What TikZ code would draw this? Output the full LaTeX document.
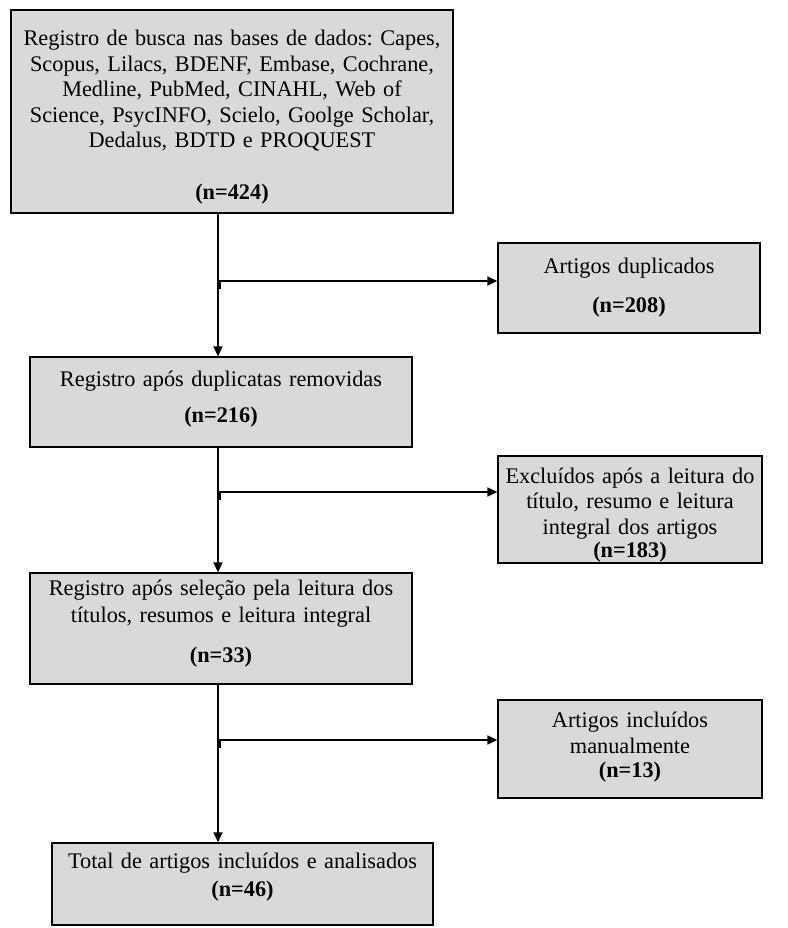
\documentclass[tikz,border=0pt]{standalone}
\usepackage{fontspec}
\setmainfont{Liberation Serif}
\usetikzlibrary{arrows.meta}
\definecolor{boxgray}{HTML}{D9D9D9}
\frenchspacing
\begin{document}
\begin{tikzpicture}[x=1pt,y=-1pt,
  box/.style={draw=black, fill=boxgray, line width=1.3pt, inner sep=0pt},
  txt/.style={align=center, inner sep=0pt, anchor=base, font=\fontsize{22.3}{25.5}\selectfont},
  arr/.style={line width=1.4pt, -{Triangle[length=10pt,width=9pt]}},
  tickmark/.style={line width=3pt}]
\useasboundingbox (0,0) rectangle (787,928);
% boxes
\node[box, minimum width=442pt, minimum height=203pt] (b1) at (232,111.5) {};
\node[box, minimum width=382pt, minimum height=90pt] (b2) at (221,402) {};
\node[box, minimum width=382pt, minimum height=111pt] (b3) at (221,628.5) {};
\node[box, minimum width=381pt, minimum height=82pt] (b4) at (242.5,884) {};
\node[box, minimum width=262pt, minimum height=90pt] (d1) at (629,288) {};
\node[box, minimum width=264pt, minimum height=107pt] (d2) at (630,509.5) {};
\node[box, minimum width=264pt, minimum height=98pt] (d3) at (630,749) {};
% texts
\node[txt, text width=440pt] (t1) at (232,46) {Registro de busca nas bases de dados: Capes,\\ Scopus, Lilacs, BDENF, Embase, Cochrane,\\ Medline, PubMed, CINAHL, Web of\\ Science, PsycINFO, Scielo, Goolge Scholar,\\ Dedalus, BDTD e PROQUEST\\[26.5pt] \textbf{(n=424)}};
\node[txt, text width=380pt] (t2) at (221,386) {Registro após duplicatas removidas\\[10.5pt] \textbf{(n=216)}};
\node[txt, text width=380pt] (t3) at (221,595) {Registro após seleção pela leitura dos\\[2pt] títulos, resumos e leitura integral\\[14pt] \textbf{(n=33)}};
\node[txt, text width=380pt] (t4) at (242.5,868) {Total de artigos incluídos e analisados\\[2.5pt] \textbf{(n=46)}};
\node[txt, text width=260pt] (s1) at (629,273) {Artigos duplicados\\[13.5pt] \textbf{(n=208)}};
\node[txt, text width=262pt] (s2) at (630,483) {Excluídos após a leitura do\\ título, resumo e leitura\\ integral dos artigos\\[-2pt] \textbf{(n=183)}};
\node[txt, text width=262pt] (s3) at (630,727) {Artigos incluídos\\[1pt] manualmente\\[-1.5pt] \textbf{(n=13)}};
% connector geometry
\coordinate (v) at (218,0);
\coordinate (j1) at (218,281);
\coordinate (j2) at (218,492);
\coordinate (j3) at (218,740);
% main flow
\draw[arr] (v |- b1.south) -- (v |- b2.north);
\draw[arr] (v |- b2.south) -- (v |- b3.north);
\draw[arr] (v |- b3.south) -- (v |- b4.north);
% side branches
\draw[arr] (j1) -- (j1 -| d1.west);
\draw[arr] (j2) -- (j2 -| d2.west);
\draw[arr] (j3) -- (j3 -| d3.west);
\draw[tickmark] ([xshift=1.5pt,yshift=-8pt]j1) -- ([xshift=1.5pt]j1);
\draw[tickmark] ([xshift=1.5pt,yshift=-8pt]j2) -- ([xshift=1.5pt]j2);
\draw[tickmark] ([xshift=1.5pt,yshift=-8pt]j3) -- ([xshift=1.5pt]j3);
\end{tikzpicture}
\end{document}
